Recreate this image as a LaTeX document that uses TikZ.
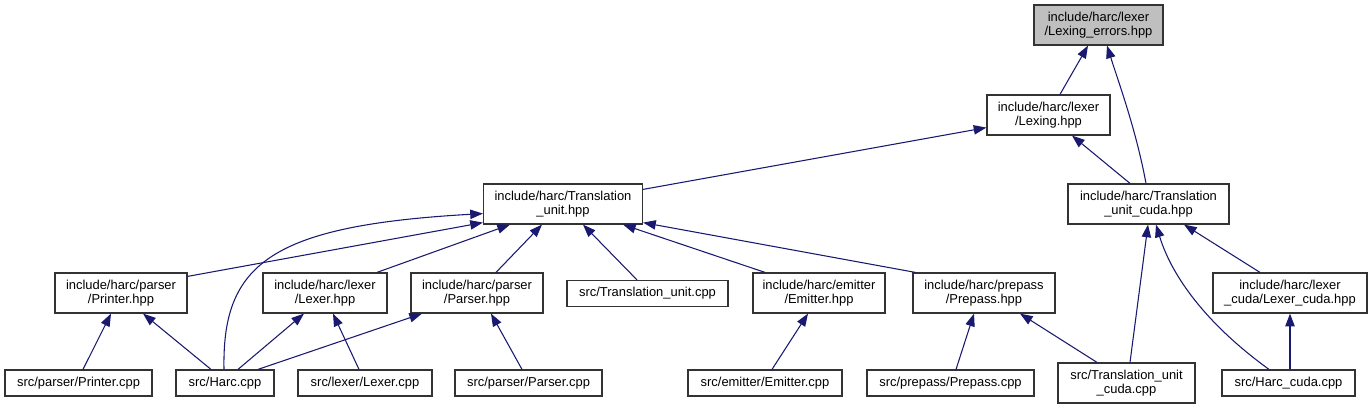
\documentclass[tikz,border=0pt]{standalone}
\usepackage{fontspec}
\setmainfont{Liberation Sans}
\usetikzlibrary{arrows.meta,calc}
\definecolor{depedge}{HTML}{191970}
\definecolor{depborder}{HTML}{333333}
\definecolor{depfocus}{HTML}{BFBFBF}

\begin{document}
\begin{tikzpicture}[
  x=0.75pt,
  y=-0.75pt,
  every node/.style={font=\fontsize{9.7pt}{10.9pt}\selectfont, black},
  file/.style={draw=depborder, line width=0.9pt, inner sep=0pt, align=center, minimum height=30pt},
  short/.style={minimum height=19.5pt},
  boxw/.style={minimum width=#1*0.75pt},
  focus/.style={fill=depfocus},
  dep/.style={depedge, line width=0.8pt, -{Triangle[length=9.5pt, width=7pt]}}
]
  % ---- bounding box, in pixels of the 1371x409 graph ----
  \path (0,0) rectangle (1371,409);

  % ---- headers ----
  \node[file, focus, boxw=129] (errors) at (1098.5,25) {include/harc/lexer\\/Lexing\_errors.hpp};
  \node[file, boxw=123] (lexing) at (1048.5,115) {include/harc/lexer\\/Lexing.hpp};
  \node[file, boxw=159] (tu) at (563,204) {include/harc/Translation\\\_unit.hpp};
  \node[file, boxw=161] (tucuda) at (1148.5,204) {include/harc/Translation\\\_unit\_cuda.hpp};
  \node[file, boxw=132] (printerh) at (121,293) {include/harc/parser\\/Printer.hpp};
  \node[file, boxw=124] (lexerh) at (325,293) {include/harc/lexer\\/Lexer.hpp};
  \node[file, boxw=132] (parserh) at (477,293) {include/harc/parser\\/Parser.hpp};
  \node[file, short, boxw=161] (tucpp) at (647.5,293.5) {src/Translation\_unit.cpp};
  \node[file, boxw=132] (emitterh) at (819,293) {include/harc/emitter\\/Emitter.hpp};
  \node[file, boxw=142] (prepassh) at (984,293) {include/harc/prepass\\/Prepass.hpp};
  \node[file, boxw=154] (lexercudah) at (1290,293) {include/harc/lexer\\\_cuda/Lexer\_cuda.hpp};

  % ---- sources ----
  \node[file, short, boxw=147] (printercpp) at (78.5,383) {src/parser/Printer.cpp};
  \node[file, short, boxw=98] (harc) at (225,383) {src/Harc.cpp};
  \node[file, short, boxw=134] (lexercpp) at (365,383) {src/lexer/Lexer.cpp};
  \node[file, short, boxw=147] (parsercpp) at (528.5,383) {src/parser/Parser.cpp};
  \node[file, short, boxw=154] (emittercpp) at (765,383) {src/emitter/Emitter.cpp};
  \node[file, short, boxw=167] (prepasscpp) at (950.5,383) {src/prepass/Prepass.cpp};
  \node[file, boxw=137] (tucudacpp) at (1126.5,383) {src/Translation\_unit\\\_cuda.cpp};
  \node[file, short, boxw=133] (harccuda) at (1288.5,383) {src/Harc\_cuda.cpp};

  % ---- includes of Lexing_errors.hpp and Lexing.hpp ----
  \draw[dep] ($(lexing.north)+(11.5,0)$) -- ($(errors.south)+(-10.5,0)$);
  \draw[dep] ($(tucuda.north)+(-2.5,0)$) .. controls +(-10,-54) and +(11,35) .. ($(errors.south)+(8.5,0)$);
  \draw[dep] ($(tu.north east)+(0,6)$) -- ($(lexing.south west)+(0,-8)$);
  \draw[dep] ($(tucuda.north)+(-18.5,0)$) -- ($(lexing.south)+(23.5,0)$);

  % ---- includes of Translation_unit.hpp ----
  \draw[dep] ($(printerh.north east)+(0,4)$) -- ($(tu.south west)+(0,-2)$);
  \draw[dep] ($(harc.north)+(-1,0)$) .. controls +(-2,-105) and +(-213,12) .. ($(tu.south west)+(0,-11)$);
  \draw[dep] ($(lexerh.north)+(52,0)$) -- ($(tu.south)+(-53,0)$);
  \draw[dep] ($(parserh.north)+(19,0)$) -- ($(tu.south)+(-21,0)$);
  \draw[dep] ($(tucpp.north)+(-10.5,0)$) -- ($(tu.south)+(20,0)$);
  \draw[dep] ($(emitterh.north)+(-54,0)$) -- ($(tu.south)+(60,0)$);
  \draw[dep] ($(prepassh.north west)+(3,0)$) -- ($(tu.south east)+(0,-2)$);

  % ---- includes of the second row ----
  \draw[dep] ($(printercpp.north)+(4.5,0)$) -- ($(printerh.south)+(-10,0)$);
  \draw[dep] ($(harc.north)+(-14,0)$) -- ($(printerh.south)+(22,0)$);
  \draw[dep] ($(harc.north)+(13,0)$) -- ($(lexerh.south)+(-21,0)$);
  \draw[dep] ($(lexercpp.north)+(-6,0)$) -- ($(lexerh.south)+(8,0)$);
  \draw[dep] ($(harc.north)+(33,0)$) -- ($(parserh.south)+(-55,0)$);
  \draw[dep] ($(parsercpp.north)+(-6.5,0)$) -- ($(parserh.south)+(14,0)$);
  \draw[dep] ($(emittercpp.north)+(7,0)$) -- ($(emitterh.south)+(-11,0)$);
  \draw[dep] ($(prepasscpp.north)+(5.5,0)$) -- ($(prepassh.south)+(-10,0)$);
  \draw[dep] ($(tucudacpp.north)+(-29.5,0)$) -- ($(prepassh.south)+(36,0)$);

  % ---- includes of Translation_unit_cuda.hpp ----
  \draw[dep] ($(tucudacpp.north)+(3.5,0)$) -- ($(tucuda.south)+(-0.5,0)$);
  \draw[dep] ($(harccuda.north)+(-19.5,0)$) .. controls +(-69,-50) and +(14,46) .. ($(tucuda.south)+(7.5,0)$);
  \draw[dep] ($(lexercudah.north)+(-30,0)$) -- ($(tucuda.south)+(35.5,0)$);
  \draw[dep] ($(harccuda.north)+(1.5,0)$) -- (lexercudah.south);
\end{tikzpicture}
\end{document}
